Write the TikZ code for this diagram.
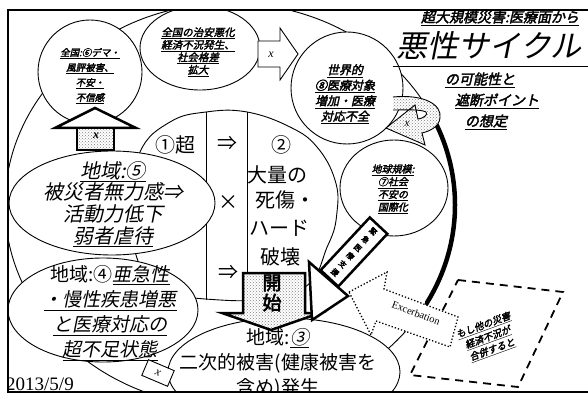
\documentclass[tikz,border=0pt]{standalone}
\usepackage{fontspec}
\setmainfont{Liberation Serif}
\newfontfamily\jp{Noto Sans CJK JP}
\newfontfamily\jpi{Noto Sans CJK JP}[FakeSlant=0.22,FakeBold=2.5]
\newfontfamily\jps{Noto Sans CJK JP}[FakeSlant=0.2]
\newfontfamily\jpb{Noto Sans CJK JP}[FakeBold=3]
\usetikzlibrary{patterns}
\newcommand\ul[1]{\underline{#1}}
\newcommand\fs[2]{\fontsize{#1}{#2}\selectfont}
\begin{document}
\begin{tikzpicture}[x=1pt,y=-1pt,
  bub/.style={draw,fill=white,line width=0.9pt},
  txt/.style={align=center,inner sep=0pt},
  dotfill/.style={preaction={fill=white},pattern=crosshatch dots,pattern color=black!50},
]
\useasboundingbox (0,0) rectangle (588,395);
\fill[white] (0,0) rectangle (588,395);
\begin{scope}
\clip (8,10) rectangle (592,392);
% big cycle ring
\draw[line width=0.9pt] (230,205) ellipse [x radius=225, y radius=202];
\begin{scope}
\clip (425,125) rectangle (480,352);
\draw[line width=4.5pt] (230,205) ellipse [x radius=225, y radius=202];
\end{scope}
% dashed area
\draw[line width=1.8pt, dash pattern=on 8pt off 6pt] (458,280) -- (563,292) -- (518,387) -- (410,375) -- cycle;
\node[txt,rotate=20,font=\jpi\fs{9.5}{13}] (t9) at (488,338) {\ul{もし他の災害}\\\ul{経済不況が}\\\ul{合併すると}};
% central blob
\draw[bub] plot[smooth cycle, tension=0.7] coordinates {(140,152) (170,122) (206,112) (247,112) (290,127) (317,147) (335,180) (337,212) (328,245) (300,290) (220,300) (150,280) (130,210)};
\draw[line width=0.9pt] (206,112) -- (206,300);
\draw[line width=0.9pt] (247,112) -- (247,300);
\node[txt,font=\jp\fs{20}{22}] (c1) at (175,145) {①超};
\node[txt,font=\jp\fs{20}{22}] (imp1) at (227,143) {⇒};
\node[txt,font=\jp\fs{20}{22}] (c2) at (281,145) {②};
\node[txt,font=\jp\fs{20}{22}] (c2a) at (277,175) {大量の};
\node[txt,font=\jp\fs{20}{22}] (c2b) at (285,200) {死傷・};
\node[txt,font=\jp\fs{20}{22}] (c2c) at (279,228) {ハード};
\node[txt,font=\jp\fs{20}{22}] (c2d) at (280,257) {破壊};
\node[txt,font=\jp\fs{20}{22}] (times) at (228,203) {×};
\node[txt,font=\jp\fs{20}{22}] (imp2) at (228,272) {⇒};
% top-left circle 6
\draw[bub] (90,72) circle [radius=52];
\node[txt,font=\jpi\fs{9.5}{15}] (t6) at (90,76) {\ul{全国:⑥デマ・}\\\ul{風評被害、}\\\ul{不安・}\\\ul{不信感}};
% top-middle ellipse
\draw[bub] (200,48) ellipse [x radius=60, y radius=42];
\node[txt,font=\jpi\fs{10.5}{12.5}] (tm) at (198,52) {\ul{全国の治安悪化}\\\ul{経済不況発生、}\\\ul{社会格差}\\\ul{拡大}};
% world circle 8
\draw[bub] (347,88) circle [radius=56];
\node[txt,font=\jpi\fs{12}{15.5}] (t8) at (345,94) {\ul{世界的}\\\ul{⑧医療対象}\\\ul{増加・医療}\\\ul{対応不全}};
% circle 7
\draw[bub] (394,188) ellipse [x radius=54, y radius=48];
\node[txt,font=\jpi\fs{10}{12.7}] (t7) at (393,189) {\ul{地球規模:}\\\ul{⑦社会}\\\ul{不安の}\\\ul{国際化}};
% ellipse 5
\draw[bub] (112,203) ellipse [x radius=103, y radius=52];
\node[txt,font=\jps\fs{20}{21.7}] (t5) at (113,204) {\ul{地域:⑤}\\被災者無力感⇒\\活動力低下\\\ul{弱者虐待}};
% ellipse 4
\draw[bub] (103,310) ellipse [x radius=95, y radius=52];
\node[txt,font=\jp\fs{19}{25}] (t4) at (110,313) {地域:④{\jps\ul{亜急性}}\\{\jps\ul{・慢性疾患増悪}}\\{\jps\ul{と医療対応の}}\\{\jps\ul{超不足状態}}};
% ellipse 3
\draw[bub] (284,372) ellipse [x radius=116, y radius=54];
\node[txt,font=\jp\fs{19}{25}] (t3) at (278,363) {地域:{\jps\ul{③}}\\二次的被害(健康被害を\\含め)発生};
% x box bottom
\node[draw,fill=white,line width=0.9pt,rotate=-23,minimum width=28,minimum height=17,inner sep=0pt,font=\itshape\fs{12}{12}] (xb) at (158,373) {x};
% up arrow 5 -> 6
\draw[line width=2.5pt,fill=white] (77,128) -- (55,128) -- (95,108) -- (136,128) -- (114,128) -- cycle;
\draw[line width=2.5pt,dotfill] (77,150) -- (77,128) -- (114,128) -- (114,150) -- cycle;
\node[txt,font=\itshape\bfseries\fs{12}{12}] (xa) at (96,136) {x};
% top hollow arrow
\draw[line width=0.9pt,fill=white] (258,41) -- (280,41) -- (280,28) -- (298,54) -- (280,80) -- (280,67) -- (258,67) -- cycle;
\node[txt,font=\itshape\fs{12}{12}] (xc) at (271,55) {x};
% curved arrow at right
\draw[line width=0.9pt,dotfill] (393,97) .. controls (425,94) and (442,105) .. (440,118) .. controls (439,127) and (430,131) .. (422,133) -- (425,145) -- (386,128) -- (415,105) -- (418,119) .. controls (425,118) and (428,114) .. (426,112) .. controls (420,109) and (405,110) .. (393,110);
\node[txt,font=\itshape\fs{11}{11}] (xd) at (407,124) {x};
% kaishi arrow
\draw[line width=2.5pt,dotfill] (243,273) -- (305,273) -- (305,313) -- (320,313) -- (271,330) -- (222,313) -- (243,313) -- cycle;
\node[txt,font=\jpb\fs{19}{20}] (ks) at (272,293) {開\\始};
% emergency arrow
\draw[line width=2.5pt,fill=white] (309,262) -- (348,296) -- (312,320) -- cycle;
\node[draw,fill=white,line width=2.5pt,rotate=-43,minimum width=24,minimum height=72,inner sep=0pt,align=center,font=\jpb\fs{7.5}{11.2}] (em) at (354,252) {緊\\急\\医\\療\\支\\援};
% Excerbation dotted arrow
\draw[line width=1.3pt,dotted,fill=white] (349,292) -- (387,272) -- (384,289) -- (458,317) -- (450,347) -- (376,321) -- (371,335) -- cycle;
\node[txt,rotate=-21,font=\fs{10.5}{11}] (ex) at (416,313) {Excerbation};
% date
\node[anchor=base west,inner sep=0pt,font=\fs{19}{19}] (date) at (6,390) {2013/5/9};
\end{scope}
% title
\node[txt,font=\jpi\fs{14}{15}] (title) at (500,18) {\ul{超大規模災害:医療面から}};
\node[txt,font=\jps\fs{31}{32}] (big) at (489,46) {悪性サイクル};
\draw[line width=0.9pt] (393,66) -- (588,66);
\node[txt,font=\jpi\fs{14}{14}] (s1) at (480,80) {\ul{の可能性と}};
\node[txt,font=\jpi\fs{14}{14}] (s2) at (497,101) {\ul{遮断ポイント}};
\node[txt,font=\jpi\fs{14}{14}] (s3) at (486,122) {\ul{の想定}};
% frame
\draw[line width=1.8pt] (592,10) -- (8,10) -- (8,392) -- (592,392);
\end{tikzpicture}
\end{document}
